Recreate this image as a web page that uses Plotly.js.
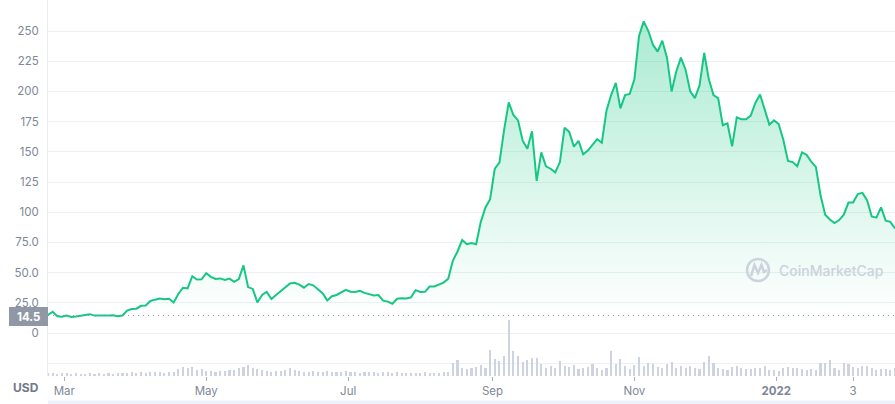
<!DOCTYPE html>
<html><head><meta charset="utf-8">
<script src="https://cdn.plot.ly/plotly-3.0.1.min.js"></script>
<style>html,body{margin:0;padding:0;background:#fff;}#chart{width:895px;height:404px;}</style>
</head><body><div id="chart"></div>
<script>
// ---- data ----
const startDate = '2021-02-22';
const stepDays = 2;
const price = [
 14.9,17.6,13.8,13.5,14.5,13.2,13.6,14.4,15.0,15.6,
 14.4,14.2,14.4,14.5,14.7,13.8,14.5,18.5,19.8,20.1,
 22.5,22.8,26.5,27.6,28.5,28.0,28.3,25.3,32.3,37.5,
 37.0,47.0,44.3,44.5,49.5,46.5,44.7,45.2,43.9,45.0,
 42.3,44.6,56.0,38.0,36.5,25.3,31.5,34.0,28.2,31.5,
 34.5,37.8,41.0,41.5,40.0,37.5,40.5,39.5,36.6,33.0,
 27.0,30.5,31.5,33.6,35.8,34.2,34.0,35.0,33.2,32.2,
 31.0,31.4,26.8,26.0,24.2,28.3,28.8,28.5,29.5,35.5,
 34.0,34.1,38.5,38.6,40.3,41.7,45.0,60.0,67.5,77.0,
 73.5,74.5,73.5,92.0,104,110.8,136,141,168,191,
 180.5,176,159.2,152.5,167,126,149.5,138,136,133,
 141.5,170,166.5,154.3,159,148,151,156,160.5,157.5,
 184,197,207,186,197,198,210,246,258,250,
 238.5,233,242,228,200,216.5,228,218,200,194.5,
 205,232,210,197,194.5,172,173.5,154.5,178.5,177,
 177,180,190.5,197.5,185,172.5,176,173,160,142.5,
 141.5,138,149.5,147.5,141.8,137.5,114,98,94,91,
 93.5,98,108,108,115,116,110,96.5,95.5,104,
 93,92,86.5
];
const volume = [
 3,3,2,3,3,2,3,2,2,3, 2,3,2,3,2,3,3,3,4,3, 4,3,4,4,4,3,4,
 4,7,9,8,9,6,7,5,5,4,5,5,6,
 6,8,9,11,8,7,6,5,4,5,
 5,6,8,6,5,4,4,5,4,4,
 5,4,4,4,5,4,4,3,4,4,
 4,3,4,4,3,4,3,3,3,3,
 3,4,3,3,3,4,4,13,16,8,
 7,8,9,11,8,26,17,15,20,56,
 25,20,14,16,18,18,12,8,10,8,
 15,10,9,11,7,8,9,12,8,6,
 8,25,12,17,10,7,11,19,10,13,
 12,9,8,12,14,8,10,8,10,8,
 7,14,20,13,8,7,6,9,10,8,
 7,7,8,8,10,6,6,5,8,9,
 8,8,7,6,7,6,13,13,16,8,
 6,13,12,9,8,10,10,8,6,7,
 7,6,8
];
const baselinePrice = 14.5;
const xTickDates = ['2021-03-01','2021-05-01','2021-07-01','2021-09-01','2021-11-01','2022-01-01','2022-02-03'];
const xTickLabels = ['Mar','May','Jul','Sep','Nov','<b>2022</b>','3'];
const yTickVals = [-25,0,25,50,75,100,125,150,175,200,225,250];
const yTickLabels = ['','0','25.0','50.0','75.0','100','125','150','175','200','225','250'];

// ---- build date axis ----
const dates = [];
{
  const d0 = new Date(startDate + 'T00:00:00Z');
  for (let i = 0; i < price.length; i++) {
    const d = new Date(d0.getTime() + i * stepDays * 86400000);
    dates.push(d.toISOString().slice(0,10));
  }
}

// plot geometry helpers (pixel -> paper)
const PL = 48, PW = 847, PT = 0, PH = 376;
const px = x => (x - PL) / PW;
const py = y => (PT + PH - y) / PH;

const green = '#16c784';
const grayTxt = '#80879a';

const traces = [
  {
    type: 'bar', x: dates, y: volume, yaxis: 'y2',
    marker: {color: '#cdd3e0', line: {width: 0}},
    width: 0.9 * 86400000, hoverinfo: 'skip'
  },
  {
    type: 'scatter', mode: 'lines', x: dates, y: price,
    line: {color: green, width: 2, shape: 'linear'},
    fill: 'tozeroy',
    fillgradient: {
      type: 'vertical', start: baselinePrice, stop: 260,
      colorscale: [[0, 'rgba(22,199,132,0)'], [1, 'rgba(22,199,132,0.36)']]
    },
    hoverinfo: 'skip'
  }
];

const logoPath = 'M ' + px(751) + ' ' + py(276) + ' L ' + px(754.5) + ' ' + py(265) + ' L ' + px(758) + ' ' + py(273) +
  ' L ' + px(761.5) + ' ' + py(265) + ' L ' + px(764) + ' ' + py(272) + ' L ' + px(767) + ' ' + py(270);

const layout = {
  width: 895, height: 404,
  margin: {l: PL, r: 0, t: PT, b: 404 - PH},
  paper_bgcolor: '#ffffff', plot_bgcolor: '#ffffff',
  showlegend: false,
  font: {family: 'Inter, Roboto, sans-serif', color: grayTxt},
  bargap: 0,
  xaxis: {
    type: 'date', range: ['2021-02-22', '2022-02-21'],
    tickvals: xTickDates, ticktext: xTickLabels,
    ticks: 'outside', ticklen: 4, tickcolor: '#a9b0bf', tickwidth: 1,
    showgrid: false, zeroline: false, showline: false,
    tickfont: {size: 11.5, color: grayTxt}, fixedrange: true
  },
  yaxis: {
    range: [-35.6, 275.7], tickvals: yTickVals, ticktext: yTickLabels,
    showgrid: true, gridcolor: '#eef0f4', gridwidth: 1,
    zeroline: false, showline: true, linecolor: '#eaedf2', linewidth: 1,
    ticks: '', ticklabelstandoff: 6,
    tickfont: {size: 11.5, color: grayTxt}, fixedrange: true
  },
  yaxis2: {overlaying: 'y', range: [0, PH], visible: false, fixedrange: true},
  shapes: [
    {type: 'line', xref: 'paper', yref: 'y', x0: 0, x1: 1, y0: baselinePrice, y1: baselinePrice,
     line: {color: '#8a93a3', width: 1.2, dash: '1px,4px'}, layer: 'above'},
    {type: 'rect', xref: 'paper', yref: 'paper', x0: px(9), x1: px(48), y0: py(326), y1: py(307),
     fillcolor: '#9198a5', line: {width: 0}},
    {type: 'rect', xref: 'paper', yref: 'paper', x0: 0, x1: 1, y0: py(404), y1: py(400.5),
     fillcolor: '#eef1fa', line: {width: 0}},
    {type: 'circle', xref: 'paper', yref: 'paper', x0: px(747), x1: px(769), y0: py(281), y1: py(259),
     line: {color: '#cdd2dc', width: 2.5}},
    {type: 'path', xref: 'paper', yref: 'paper', path: logoPath,
     line: {color: '#cdd2dc', width: 2.5}}
  ],
  annotations: [
    {xref: 'paper', yref: 'paper', x: px(28.5), y: py(316.5), text: '<b>14.5</b>', showarrow: false,
     font: {size: 11.5, color: '#ffffff'}, xanchor: 'center', yanchor: 'middle'},
    {xref: 'paper', yref: 'paper', x: px(26), y: py(387.5), text: '<b>USD</b>', showarrow: false,
     font: {size: 12, color: '#707a8a'}, xanchor: 'center', yanchor: 'middle'},
    {xref: 'paper', yref: 'paper', x: px(777), y: py(270), text: 'CoinMarketCap', showarrow: false,
     font: {size: 14, color: '#cdd2dc', weight: 500}, xanchor: 'left', yanchor: 'middle'}
  ]
};

Plotly.newPlot('chart', traces, layout, {displayModeBar: false, staticPlot: true});
</script>
</body></html>
